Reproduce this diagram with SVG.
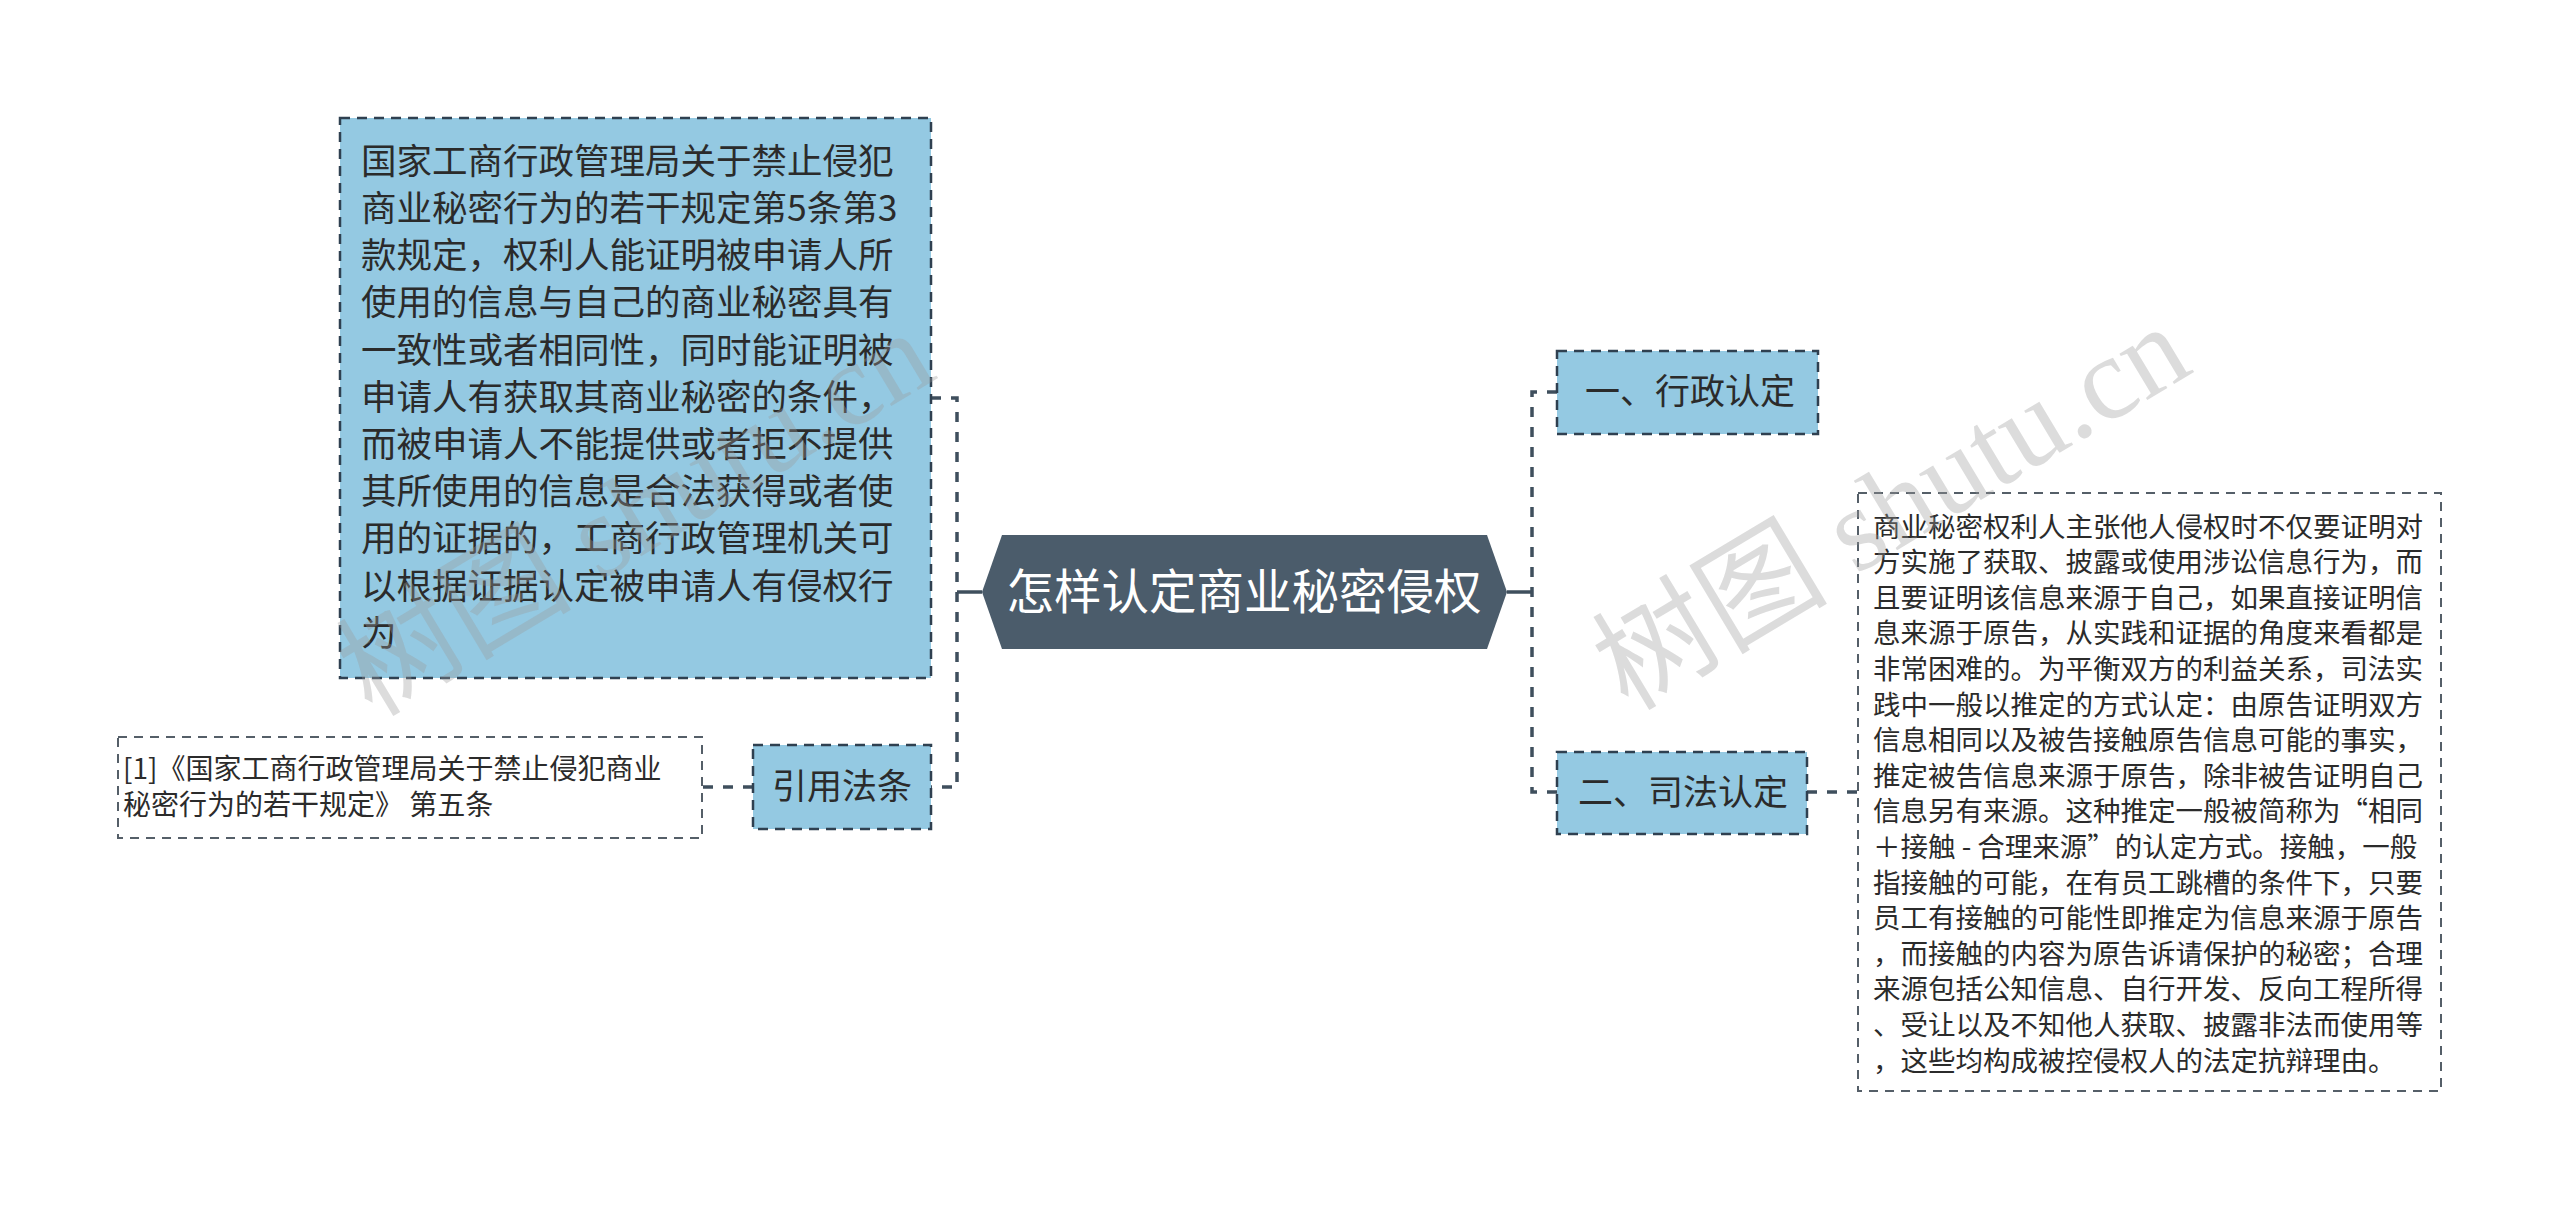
<svg xmlns="http://www.w3.org/2000/svg" width="2560" height="1211" viewBox="0 0 2560 1211">
<style>
  text { font-family: "Noto Sans CJK SC", "Noto Sans", sans-serif; }
  .blue { fill: #94c9e2; stroke: #2f4050; stroke-width: 2.5; stroke-dasharray: 10 7; }
  .plain { fill: #ffffff; stroke: #555f68; stroke-width: 2; stroke-dasharray: 9 7; }
  .conn { fill: none; stroke: #3f4f5d; stroke-width: 3.5; stroke-dasharray: 10 10; }
  .solid { fill: none; stroke: #3f4f5d; stroke-width: 3.5; }
  .t { fill: #2b2b2b; }
  .wm { font-family: "Liberation Serif", "Noto Sans CJK SC", serif; fill: #9a9a9a; fill-opacity: 0.35; font-size: 118px; }
</style>
<rect width="2560" height="1211" fill="#ffffff"/>

<g id="connectors">
  <path class="conn" d="M931,398 H957 V787 H931"/>
  <path class="solid" d="M957,592 H982"/>
  <path class="conn" d="M753,787 H702"/>
  <path class="conn" d="M1557,392 H1532 V792 H1557"/>
  <path class="solid" d="M1507,592 H1532"/>
  <path class="conn" d="M1807,792 H1858"/>
</g>

<g id="center">
  <polygon points="982,592 1002,535 1487,535 1507,592 1487,649 1002,649" fill="#4b5c6b"/>
  <text x="1244" y="609" font-size="47.5" fill="#ffffff" text-anchor="middle">怎样认定商业秘密侵权</text>
</g>

<g id="left-detail">
  <rect class="blue" x="340" y="118" width="591" height="560"/>
  <g class="t" font-size="35.5">
    <text x="361" y="174">国家工商行政管理局关于禁止侵犯</text>
    <text x="361" y="221">商业秘密行为的若干规定第5条第3</text>
    <text x="361" y="268">款规定，权利人能证明被申请人所</text>
    <text x="361" y="315">使用的信息与自己的商业秘密具有</text>
    <text x="361" y="363">一致性或者相同性，同时能证明被</text>
    <text x="361" y="410">申请人有获取其商业秘密的条件，</text>
    <text x="361" y="457">而被申请人不能提供或者拒不提供</text>
    <text x="361" y="504">其所使用的信息是合法获得或者使</text>
    <text x="361" y="551">用的证据的，工商行政管理机关可</text>
    <text x="361" y="599">以根据证据认定被申请人有侵权行</text>
    <text x="361" y="646">为</text>
  </g>
</g>

<g id="cite">
  <rect class="blue" x="753" y="745" width="178" height="84"/>
  <text class="t" x="842" y="799" font-size="35" text-anchor="middle">引用法条</text>
</g>

<g id="cite-detail">
  <rect class="plain" x="118" y="737" width="584" height="101"/>
  <g class="t" font-size="28">
    <text x="123" y="779">[1]《国家工商行政管理局关于禁止侵犯商业</text>
    <text x="123" y="815">秘密行为的若干规定》 第五条</text>
  </g>
</g>

<g id="admin">
  <rect class="blue" x="1557" y="351" width="261" height="83"/>
  <text class="t" x="1690" y="404" font-size="35" text-anchor="middle">一、行政认定</text>
</g>

<g id="judicial">
  <rect class="blue" x="1557" y="752" width="250" height="82"/>
  <text class="t" x="1683" y="805" font-size="35" text-anchor="middle">二、司法认定</text>
</g>

<g id="judicial-detail">
  <rect class="plain" x="1858" y="493" width="583" height="598"/>
  <g class="t" font-size="27.5">
    <text x="1873" y="537">商业秘密权利人主张他人侵权时不仅要证明对</text>
    <text x="1873" y="572">方实施了获取、披露或使用涉讼信息行为，而</text>
    <text x="1873" y="608">且要证明该信息来源于自己，如果直接证明信</text>
    <text x="1873" y="643">息来源于原告，从实践和证据的角度来看都是</text>
    <text x="1873" y="679">非常困难的。为平衡双方的利益关系，司法实</text>
    <text x="1873" y="715">践中一般以推定的方式认定：由原告证明双方</text>
    <text x="1873" y="750">信息相同以及被告接触原告信息可能的事实，</text>
    <text x="1873" y="786">推定被告信息来源于原告，除非被告证明自己</text>
    <text x="1873" y="821">信息另有来源。这种推定一般被简称为“相同</text>
    <text x="1873" y="857"> ＋接触 - 合理来源”的认定方式。接触，一般</text>
    <text x="1873" y="893">指接触的可能，在有员工跳槽的条件下，只要</text>
    <text x="1873" y="928">员工有接触的可能性即推定为信息来源于原告</text>
    <text x="1873" y="964">，而接触的内容为原告诉请保护的秘密；合理</text>
    <text x="1873" y="999">来源包括公知信息、自行开发、反向工程所得</text>
    <text x="1873" y="1035">、受让以及不知他人获取、披露非法而使用等</text>
    <text x="1873" y="1071">，这些均构成被控侵权人的法定抗辩理由。</text>
  </g>
</g>

<g id="watermarks">
  <text class="wm" transform="translate(372,718) rotate(-31)">树图 shutu.cn</text>
  <text class="wm" transform="translate(1628,712) rotate(-31)">树图 shutu.cn</text>
</g>
</svg>
